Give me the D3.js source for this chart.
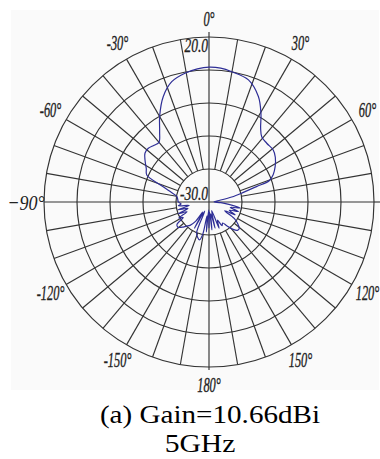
<!DOCTYPE html>
<html>
<head>
<meta charset="utf-8">
<script src="https://cdn.jsdelivr.net/npm/d3@7"></script>
<style>
  html, body { margin: 0; padding: 0; background: #ffffff; }
  svg { display: block; }
</style>
</head>
<body>
<svg id="chart" width="380" height="459"></svg>
<script>
// ---- data ----
const angleDeg = [
  -178, -175, -172, -169, -166, -162, -158, -155, -151, -148, -145, -141, -137, -133, -129, -125,
  -121, -118, -114, -111, -107, -104, -100, -97, -94, -90,
  -85, -80, -75, -71.5, -66.6, -62, -56.7, -52.7, -48.5, -44, -40, -35, -29.9, -23.5, -17.2, -10.6, -5,
  0, 5, 9.9, 17.9, 25.1, 30.4, 35, 38.9, 44.5, 51, 56, 61.9, 67, 70.5, 72, 74.5, 77.6, 81, 85, 90,
  93, 97, 101, 104, 108, 112, 116, 119, 123, 127, 131, 135, 139, 143, 147, 151, 155, 159, 163, 167,
  171, 174, 177, 180
];
const gainDb = [
  -39.5, -31.1, -37.2, -30.0, -27.7, -28.5, -30.0, -38.7, -31.1, -38.0, -33.4, -31.1, -30.0, -28.5, -27.3, -27.7,
  -31.1, -29.6, -33.4, -30.0, -34.2, -30.4, -34.9, -30.8, -31.9, -30.9,
  -30.6, -30.1, -27.3, -24.2, -16.8, -15.6, -13.5, -12.0, -11.8, -12.6, -13.0, -9.9, -5.0, 1.0, 5.2, 7.1, 8.1,
  8.6, 8.4, 7.6, 6.1, 1.6, -3.6, -8.4, -10.7, -11.3, -11.2, -12.2, -14.1, -16.1, -18.3, -23.6, -29.2, -33.7, -38.3, -40.2, -40.6,
  -38.0, -34.9, -30.4, -34.2, -30.8, -34.2, -31.5, -35.7, -31.1, -28.9, -27.3, -27.3, -28.9, -31.1, -33.0, -32.3, -34.9, -31.9, -39.1, -32.3,
  -38.0, -31.9, -38.7, -32.7
];
const ringValues = [-30, -17.5, -5, 7.5, 20];
const radialTickValues = [-30, 20];
const radialTickLabels = ["-30.0", "20.0"];
const angleTickValues = [0, 30, 60, -90, 120, 150, 180, -150, -120, -60, -30];
const angleTickLabels = ["0°", "30°", "60°", "−90°", "120°", "150°", "180°", "-150°", "-120°", "-60°", "-30°"];
const spokeAngles = d3.range(0, 360, 10);
const captionLines = ["(a) Gain=10.66dBi", "5GHz"];

// ---- layout ----
const cx = 209, cy = 202, R = 165;
const svg = d3.select("#chart");

svg.append("rect").attr("x", 11).attr("y", 10).attr("width", 368).attr("height", 380)
  .attr("fill", "#fafafa");

const rScale = d3.scaleLinear().domain([-42.5, 20]).range([0, R]);
const toRad = d => d * Math.PI / 180;

const g = svg.append("g").attr("transform", `translate(${cx},${cy})`);
const gridColor = "#333333";

// rings
g.selectAll("circle.ring").data(ringValues).join("circle")
  .attr("class", "ring")
  .attr("r", d => rScale(d))
  .attr("fill", "none").attr("stroke", gridColor).attr("stroke-width", 1.15);

// spokes
const rIn = rScale(ringValues[0]);
g.selectAll("line.spoke").data(spokeAngles).join("line")
  .attr("class", "spoke")
  .attr("x1", d => (d % 90 === 0 ? 0 : rIn) * Math.sin(toRad(d)))
  .attr("y1", d => -(d % 90 === 0 ? 0 : rIn) * Math.cos(toRad(d)))
  .attr("x2", d => R * Math.sin(toRad(d)))
  .attr("y2", d => -R * Math.cos(toRad(d)))
  .attr("stroke", gridColor).attr("stroke-width", 1.15);

// axis extensions
g.append("line").attr("x1", 0).attr("y1", -R).attr("x2", 0).attr("y2", -R - 5)
  .attr("stroke", gridColor).attr("stroke-width", 1.15);
g.append("line").attr("x1", 0).attr("y1", R).attr("x2", 0).attr("y2", R + 3)
  .attr("stroke", gridColor).attr("stroke-width", 1.15);
g.append("line").attr("x1", R).attr("y1", 0).attr("x2", 380 - cx).attr("y2", 0)
  .attr("stroke", gridColor).attr("stroke-width", 1.15);

// pattern curve
const pts = angleDeg.map((a, i) => [toRad(a), rScale(gainDb[i])]);
const line = d3.lineRadial().angle(d => d[0]).radius(d => d[1])
  .curve(d3.curveCatmullRomClosed.alpha(0.5));
g.append("path").attr("d", line(pts))
  .attr("fill", "none").attr("stroke", "#2e2e96").attr("stroke-width", 1.2)
  .attr("stroke-linejoin", "round");

// angle labels
const labR = 183;
angleTickValues.forEach((a, i) => {
  const x = labR * Math.sin(toRad(a)), y = -labR * Math.cos(toRad(a));
  const big = a === -90;
  g.append("text")
    .attr("transform", `translate(${x},${y}) scale(${big ? 0.82 : 0.62},1)`)
    .attr("text-anchor", "middle").attr("dominant-baseline", "central")
    .attr("font-family", "'Liberation Serif', 'DejaVu Serif', serif")
    .attr("font-style", "italic")
    .attr("font-size", big ? 22 : 20)
    .attr("fill", "#222").attr("stroke", "#222").attr("stroke-width", big ? 0 : 0.35)
    .text(angleTickLabels[i]);
});

// radial labels: outer label just inside its ring, inner label just above the horizontal axis
const radialLabelBaseline = v => (v === ringValues[0] ? -2 : -rScale(v) + 15);
radialTickValues.forEach((v, i) => {
  g.append("text")
    .attr("transform", `translate(-1,${radialLabelBaseline(v)}) scale(0.75,1)`)
    .attr("text-anchor", "end")
    .attr("font-family", "'Liberation Serif', 'DejaVu Serif', serif")
    .attr("font-style", "italic")
    .attr("font-size", 18)
    .attr("fill", "#222").attr("stroke", "#222").attr("stroke-width", 0.3)
    .text(radialTickLabels[i]);
});

// caption
svg.append("text").attr("transform", "translate(210,423) scale(1.12,1)").attr("text-anchor", "middle")
  .attr("font-family", "'Liberation Serif', 'Times New Roman', serif")
  .attr("font-size", 26).attr("fill", "#000").text(captionLines[0]);
svg.append("text").attr("transform", "translate(200,452) scale(1.14,1)").attr("text-anchor", "middle")
  .attr("font-family", "'Liberation Serif', 'Times New Roman', serif")
  .attr("font-size", 26).attr("fill", "#000").text(captionLines[1]);
</script>
</body>
</html>
